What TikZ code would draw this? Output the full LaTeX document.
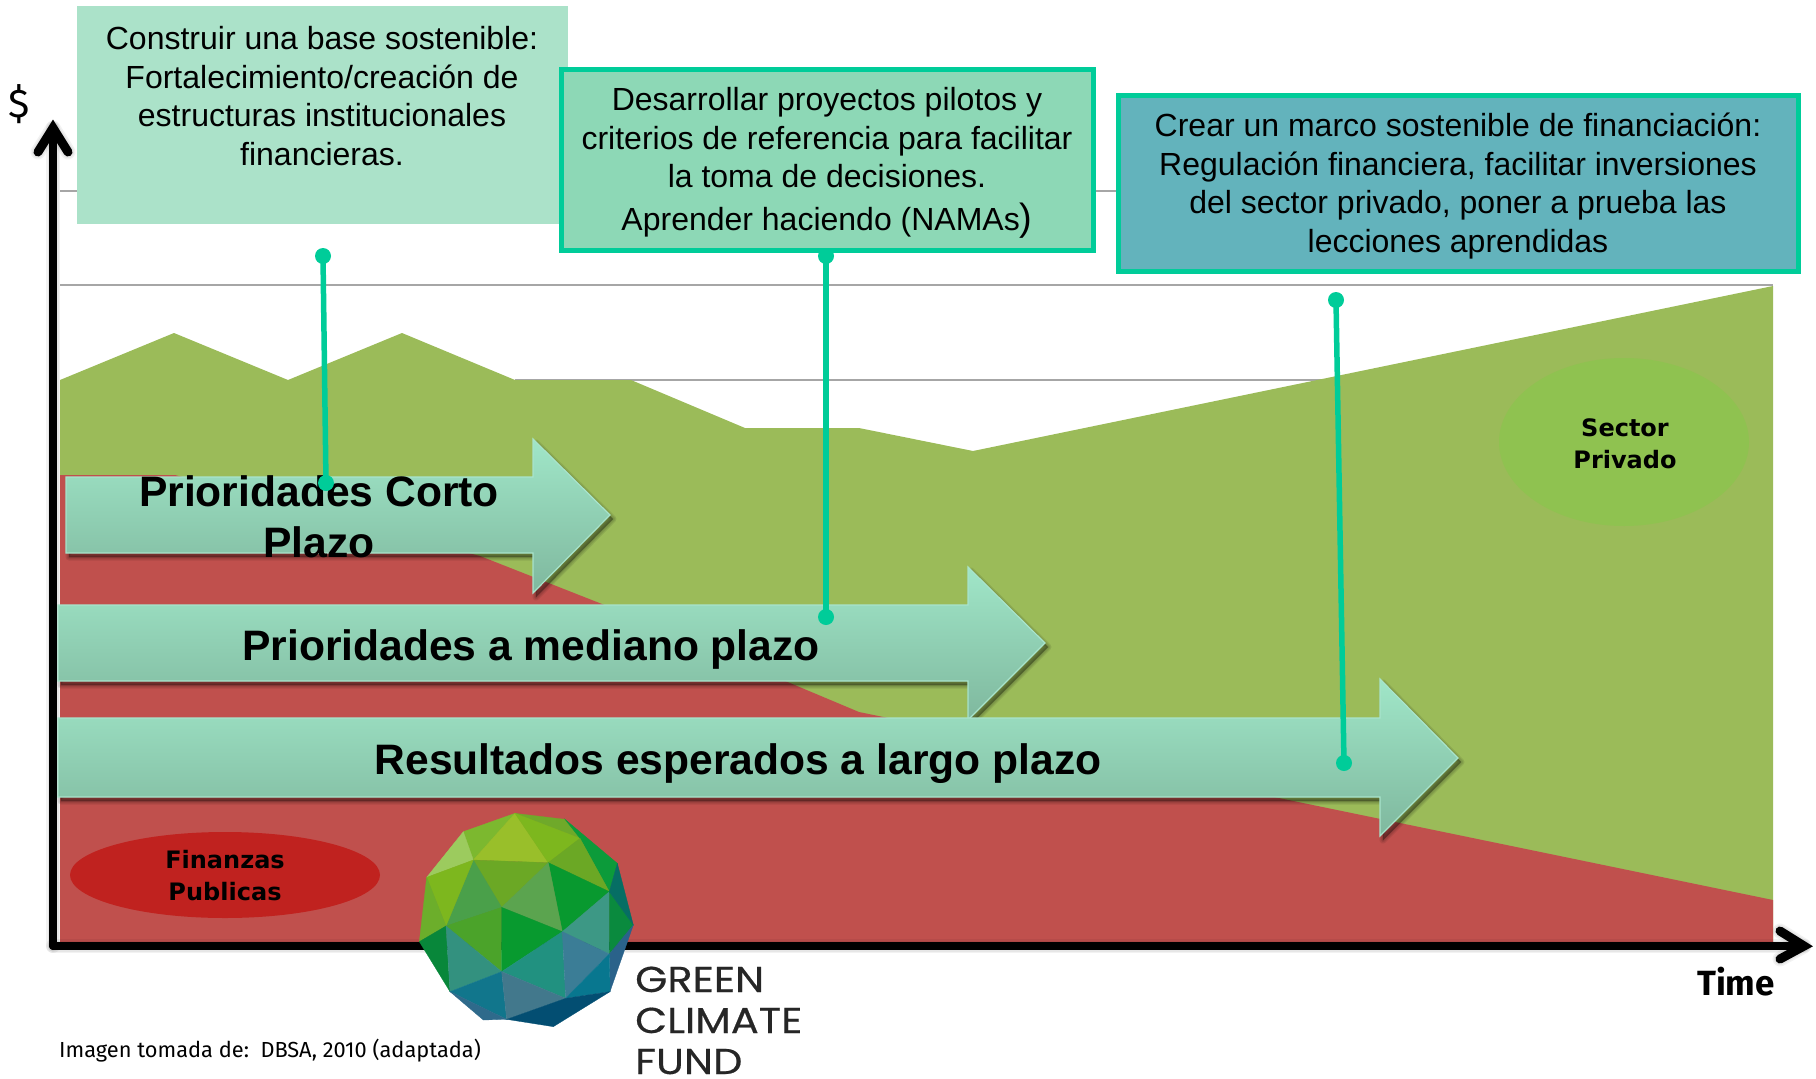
\documentclass[tikz,border=0pt]{standalone}
\usepackage{fontspec}
\usetikzlibrary{shapes.geometric}
\setmainfont{Liberation Sans}
\newfontfamily\verd{DejaVu Sans}
\newfontfamily\tah{Fira Sans}
\newfontfamily\gcf{Poppins}[FakeStretch=1.15,FakeBold=0.5]
\newcommand{\fs}[2]{\fontsize{#1}{#2}\selectfont}
\definecolor{gridc}{HTML}{A6A6A6}
\definecolor{greenarea}{HTML}{9BBB59}
\definecolor{redarea}{HTML}{C0504D}
\definecolor{tealc}{HTML}{00CC99}
\definecolor{arrowtop}{HTML}{A0E6C8}
\definecolor{arrowbot}{HTML}{7FB89E}
\definecolor{arrowedge}{HTML}{A8E4CC}
\definecolor{sectorc}{HTML}{8FC250}
\definecolor{finanzc}{HTML}{C0221F}
\definecolor{boxa}{HTML}{ABE2C9}
\definecolor{boxb}{HTML}{8DD8B6}
\definecolor{boxc}{HTML}{63B3BC}
\tikzset{
  gridline/.style={draw=gridc,line width=1.5pt},
  axisline/.style={draw=black,line width=8pt,line cap=round},
  axishead/.style={draw=black,line width=9pt,line cap=round,miter limit=10},
  bigarrow/.style={top color=arrowtop,bottom color=arrowbot,draw=arrowedge,line width=1.2pt},
  softlayer/.style={draw=black,fill=black,line width=#1,line join=round,line cap=round,opacity=.085},
  softline/.style={draw=black,line width=#1,line join=round,line cap=round,opacity=.05},
  conn/.style={draw=tealc,line width=5.5pt},
  dotn/.style={circle,fill=tealc,inner sep=0pt,minimum size=16pt},
  boxtext/.style={align=center,font=\fs{32}{38.5}},
  arrowtext/.style={align=center,font=\bfseries\fs{42.6}{51}},
  elltext/.style={align=center,font=\verd\bfseries\fs{24}{32},ellipse,inner sep=0pt},
  facet/.style={line width=.3pt,draw=#1,fill=#1},
  gcftext/.style={font=\gcf\fs{36}{42},text=black!85,anchor=base west,inner sep=0pt},
}
\newcommand{\tri}[2]{\definecolor{facetc}{HTML}{#1}\path[facet=facetc] #2 -- cycle;}
\newcommand{\softshadow}[1]{\begin{scope}[shift={(3,4)}]\path[softlayer=7pt] #1;\path[softlayer=4.5pt] #1;\path[softlayer=2pt] #1;\path[softlayer=.2pt] #1;\end{scope}}
\newcommand{\softstroke}[2]{\begin{scope}[shift={(3,5)}]\path[softline=#2+6pt] #1;\path[softline=#2+3pt] #1;\path[softline=#2] #1;\end{scope}}
\def\arrA{(66,477) -- (533,477) -- (533,439) -- (610,515) -- (533,593) -- (533,553) -- (66,553) -- cycle}
\def\arrB{(58,605) -- (968,605) -- (968,567) -- (1045,643) -- (968,720) -- (968,681) -- (58,681) -- cycle}
\def\arrC{(58,718) -- (1380,718) -- (1380,679) -- (1458,758) -- (1380,836) -- (1380,797) -- (58,797) -- cycle}
\begin{document}
\begin{tikzpicture}[x=1pt,y=-1pt]
\useasboundingbox (0,0) rectangle (1816,1079);
% grid
\draw[gridline] (60,191) -- (1120,191);
\draw[gridline] (60,285) -- (1773,285);
\draw[gridline] (515,380) -- (1330,380);
% areas
\fill[greenarea] (60,380) -- (174,333) -- (288,380) -- (402,333) -- (515,380) -- (631,380) -- (745,428) -- (859,428) -- (973,451) -- (1773,286) -- (1773,945) -- (60,945) -- cycle;
\fill[redarea] (60,475) -- (175,475) -- (480,556) -- (602,604) -- (859,712) -- (1274,797) -- (1773,900) -- (1773,945) -- (60,945) -- cycle;
% ellipses
\node[elltext,fill=sectorc,minimum width=250pt,minimum height=168pt] (sector) at (1624,442) {};
\node[elltext] (sectort) at (1625,444) {Sector\\Privado};
\node[elltext,fill=finanzc,minimum width=310pt,minimum height=86pt] (finanz) at (225,875) {};
\node[elltext] (finanzt) at (225,876) {Finanzas\\Publicas};
% axes
\coordinate (orig) at (53,946);
\coordinate (ytop) at (53,128);
\coordinate (xend) at (1804,946);
\coordinate (yl) at (38,152);
\coordinate (yr) at (68,152);
\coordinate (xu) at (1780,931);
\coordinate (xd) at (1780,959);
\softstroke{(orig) -- (ytop)}{8pt}
\softstroke{(orig) -- (xend)}{8pt}
\softstroke{(yl) -- (ytop) -- (yr)}{9pt}
\softstroke{(xu) -- (xend) -- (xd)}{9pt}
\draw[axisline] (orig) -- (ytop);
\draw[axisline] (orig) -- (xend);
\draw[axishead] (yl) -- (ytop) -- (yr);
\draw[axishead] (xu) -- (xend) -- (xd);
% arrows
\softshadow{\arrA}
\path[bigarrow] \arrA;
\softshadow{\arrB}
\path[bigarrow] \arrB;
\softshadow{\arrC}
\path[bigarrow] \arrC;
\node[arrowtext] (a1) at (319,517) {Prioridades Corto\\Plazo};
\node[arrowtext] (a2) at (531,649) {Prioridades a mediano plazo};
\node[arrowtext] (a3) at (738,764) {Resultados esperados a largo plazo};
% boxes
\fill[boxa] (77,6) rectangle (568,224);
\node[boxtext] (b1) at (322,96) {Construir una base sostenible:\\Fortalecimiento/creación de\\estructuras institucionales\\financieras.};
\draw[draw=tealc,fill=boxb,line width=5pt] (561,69) rectangle (1093,250);
\node[boxtext] (b2) at (827,163) {Desarrollar proyectos pilotos y\\criterios de referencia para facilitar\\la toma de decisiones.\\[4pt]Aprender haciendo (NAMAs{\fs{38}{38})}};
\draw[draw=tealc,fill=boxc,line width=5pt] (1118,95) rectangle (1798,271);
\node[boxtext] (b3) at (1458,186) {Crear un marco sostenible de financiación:\\Regulación financiera, facilitar inversiones\\del sector privado, poner a prueba las\\lecciones aprendidas};
% connectors
\node[dotn] (c1a) at (323,256) {};
\node[dotn] (c1b) at (326,483) {};
\node[dotn] (c2a) at (826,256) {};
\node[dotn] (c2b) at (826,617) {};
\node[dotn] (c3a) at (1336,300) {};
\node[dotn] (c3b) at (1344,763) {};
\draw[conn] (c1a.center) -- (c1b.center);
\draw[conn] (c2a.center) -- (c2b.center);
\draw[conn] (c3a.center) -- (c3b.center);
% labels
\node[font=\tah\fs{40}{44}] (dollar) at (19,104) {\$};
\node[font=\tah\bfseries\fs{35}{38},anchor=base east,inner sep=0pt] (time) at (1775,995) {Time};
\node[font=\tah\fs{21.8}{26},anchor=base west,inner sep=0pt] (src) at (59,1057) {Imagen tomada de:\ \ DBSA, 2010 (adaptada)};
% globe
\begin{scope}[shift={(400,790)},x=0.33333pt,y=-0.33333pt]
\coordinate (A) at (345,70);\coordinate (B) at (495,88);\coordinate (C) at (190,125);
\coordinate (D) at (80,262);\coordinate (E) at (58,455);\coordinate (F) at (150,605);
\coordinate (G) at (250,690);\coordinate (H) at (460,710);\coordinate (I) at (630,605);
\coordinate (J) at (700,405);\coordinate (K) at (652,220);\coordinate (L) at (220,210);
\coordinate (M) at (445,218);\coordinate (N) at (540,145);\coordinate (O) at (628,305);
\coordinate (P) at (305,352);\coordinate (Q) at (487,425);\coordinate (R) at (138,408);
\coordinate (S) at (628,492);\coordinate (T) at (305,545);\coordinate (U) at (497,625);
\coordinate (V) at (320,688);
\tri{7CB82F}{(A)--(C)--(L)}
\tri{9CCB5E}{(C)--(D)--(L)}
\tri{99BF2A}{(A)--(L)--(M)}
\tri{6FA92A}{(A)--(B)--(N)}
\tri{7DB71E}{(A)--(N)--(M)}
\tri{0C9B3A}{(B)--(K)--(O)--(N)}
\tri{6BA825}{(N)--(O)--(M)}
\tri{6BA825}{(L)--(M)--(P)}
\tri{08992F}{(M)--(O)--(Q)}
\tri{5BA44F}{(M)--(P)--(Q)}
\tri{4AA04A}{(L)--(P)--(R)}
\tri{7DB71E}{(D)--(L)--(R)}
\tri{6CAE2B}{(D)--(E)--(R)}
\tri{4BA32A}{(R)--(P)--(T)}
\tri{089A2F}{(P)--(Q)--(T)}
\tri{08873A}{(E)--(R)--(F)}
\tri{33917F}{(R)--(T)--(F)}
\tri{3D9885}{(Q)--(O)--(S)}
\tri{0A8A3E}{(O)--(J)--(S)}
\tri{066E64}{(K)--(J)--(O)}
\tri{219180}{(T)--(Q)--(U)}
\tri{3B7D96}{(Q)--(S)--(U)}
\tri{2A628A}{(S)--(J)--(I)}
\tri{08778F}{(S)--(I)--(U)}
\tri{11768C}{(F)--(T)--(V)}
\tri{42788C}{(T)--(U)--(V)}
\tri{034E72}{(U)--(I)--(H)--(V)}
\tri{2F6A8B}{(F)--(G)--(V)}
\end{scope}
\node[gcftext] (g1) at (635,992) {GREEN};
\node[gcftext] (g2) at (635,1033) {CLIMATE};
\node[gcftext] (g3) at (635,1074) {FUND};
\end{tikzpicture}
\end{document}
